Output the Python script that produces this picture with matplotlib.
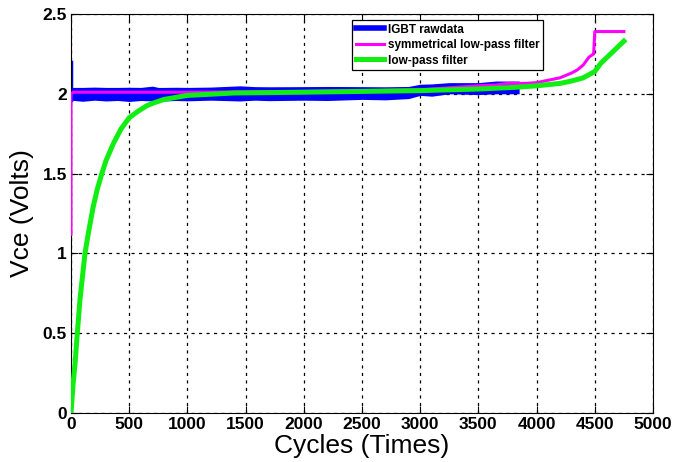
import matplotlib
matplotlib.use("Agg")
import matplotlib.pyplot as plt

plt.rcParams['font.family'] = ['Liberation Sans Narrow', 'Liberation Sans', 'DejaVu Sans']

# IGBT raw data: noisy band, read as upper / lower envelope
raw_x = [0, 100, 200, 300, 400, 500, 600, 700, 750, 800, 900, 1000, 1200, 1450, 1580, 1700, 2000,
         2200, 2500, 2700, 2900, 3000, 3100, 3250, 3500, 3650, 3850]
raw_top = [2.04, 2.04, 2.042, 2.04, 2.04, 2.041, 2.04, 2.048, 2.04, 2.04, 2.041, 2.04, 2.042, 2.05, 2.045, 2.044, 2.045,
           2.046, 2.045, 2.044, 2.046, 2.06, 2.062, 2.07, 2.07, 2.08, 2.08]
raw_bot = [1.96, 1.953, 1.96, 1.955, 1.958, 1.952, 1.958, 1.955, 1.96, 1.955, 1.958, 1.956, 1.96, 1.955, 1.96, 1.957, 1.96,
           1.958, 1.965, 1.962, 1.97, 1.99, 1.985, 2.0, 1.995, 2.0, 2.0]
raw_spike_x = [0, 0]
raw_spike_y = [1.96, 2.2]

# symmetrical low-pass filter
sym_x = [0, 0, 20, 500, 1000, 2000, 2500, 3000, 3300, 3500, 3650, 3750, 3900, 4000, 4100, 4200, 4300, 4350,
         4400, 4450, 4490, 4500, 4750]
sym_y = [1.12, 2.0, 2.01, 2.01, 2.01, 2.015, 2.02, 2.025, 2.04, 2.05, 2.055, 2.065, 2.065, 2.07, 2.085, 2.1, 2.13, 2.15,
         2.18, 2.23, 2.25, 2.39, 2.39]

# low-pass filter
lp_x = [0, 10, 20, 35, 50, 77, 120, 150, 190, 225, 265, 300, 365, 430, 500, 575, 650, 700, 800,
        1000, 1400, 2000, 2500, 3000, 3500, 3800, 4000, 4200, 4300, 4400, 4500, 4550, 4650, 4750]
lp_y = [0, 0.1, 0.2, 0.31, 0.46, 0.71, 1.0, 1.13, 1.29, 1.4, 1.5, 1.58, 1.69, 1.78, 1.85, 1.89, 1.925, 1.94, 1.965,
        1.99, 2.005, 2.01, 2.015, 2.02, 2.03, 2.04, 2.05, 2.065, 2.08, 2.1, 2.14, 2.19, 2.26, 2.33]

xticks = [0, 500, 1000, 1500, 2000, 2500, 3000, 3500, 4000, 4500, 5000]
yticks = [0, 0.5, 1, 1.5, 2, 2.5]
ytick_labels = ['0', '0.5', '1', '1.5', '2', '2.5']

fig = plt.figure(figsize=(6.9, 4.62), dpi=100)
ax = fig.add_axes([71/690, 1 - 413/462, 582/690, 399/462])

blue = '#0000ff'
ax.fill_between(raw_x, raw_bot, raw_top, color=blue, lw=0, zorder=2)
ax.plot(raw_spike_x, raw_spike_y, color=blue, lw=2.5, zorder=2)
ax.plot([], [], color=blue, lw=4, label='IGBT rawdata')
ax.plot(sym_x, sym_y, color='#ff00ff', lw=2.2, label='symmetrical low-pass filter', zorder=3)
ax.plot(lp_x, lp_y, color='#11ee11', lw=3.6, label='low-pass filter', zorder=4)

ax.set_xlim(0, 5000)
ax.set_ylim(0, 2.5)
ax.set_xticks(xticks)
ax.set_yticks(yticks)
ax.set_yticklabels(ytick_labels)
ax.tick_params(direction='in', length=5, width=0.8, top=True, right=True,
               labelsize=12.5, pad=3)
for lab in ax.get_xticklabels() + ax.get_yticklabels():
    lab.set_fontweight('bold')
ax.grid(True, color='black', linestyle=(0, (2.5, 3.5)), linewidth=0.9)
ax.set_axisbelow(True)
for s in ax.spines.values():
    s.set_linewidth(0.8)

ax.set_xlabel('Cycles (Times)', fontsize=19, family=['Liberation Sans'], labelpad=1)
ax.set_ylabel('Vce (Volts)', fontsize=19, family=['Liberation Sans'], labelpad=6)

leg = ax.legend(loc='upper left', bbox_to_anchor=(0.483, 0.985), fancybox=False,
                edgecolor='black', framealpha=1, prop={'family': 'Liberation Sans', 'size': 8.5, 'weight': 'bold'},
                handlelength=2.4, handletextpad=0.3, labelspacing=0.3, borderpad=0.3,
                borderaxespad=0)
leg.get_frame().set_linewidth(0.9)

fig.savefig('out.png', dpi=100)
